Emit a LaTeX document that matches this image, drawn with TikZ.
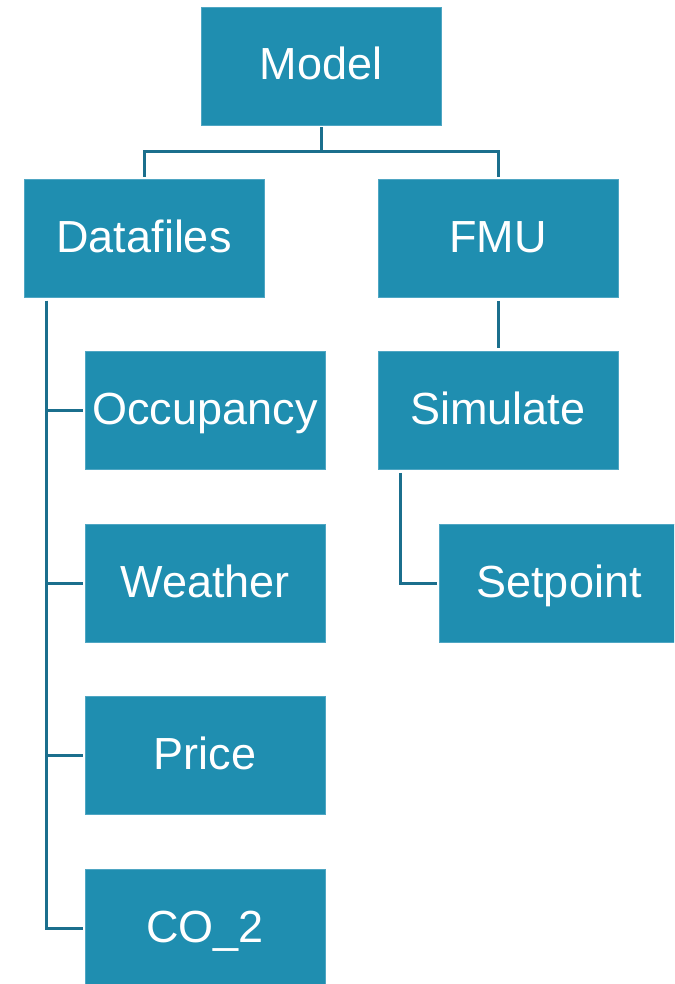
\documentclass[tikz,border=0pt]{standalone}
\usepackage{fontspec}
\setmainfont{Liberation Sans}
\definecolor{boxfill}{HTML}{1F8EB0}
\definecolor{boxedge}{HTML}{4FA6C3}
\definecolor{linkcol}{HTML}{1B6F8D}
\tikzset{
  item/.style={rectangle, fill=boxfill, draw=boxedge, line width=0.8pt,
    minimum width=240pt, minimum height=118pt, inner sep=0pt,
    text height=36pt, text depth=8pt,
    text=white, font=\fontsize{45}{50}\selectfont},
  link/.style={draw=linkcol, line width=3pt}
}
\begin{document}
\begin{tikzpicture}[x=1pt,y=-1pt]
  \useasboundingbox (0,0) rectangle (674,984);
  \clip (0,0) rectangle (674,984);
  % boxes
  \node[item] (model)     at (321,66)    {Model};
  \node[item] (datafiles) at (144,238.5) {Datafiles};
  \node[item] (fmu)       at (498,238.5) {FMU};
  \node[item] (occ)       at (205,410.5) {Occupancy};
  \node[item] (sim)       at (498,410.5) {Simulate};
  \node[item] (weather)   at (205,583)   {Weather};
  \node[item] (setpoint)  at (559,583)   {Setpoint};
  \node[item] (price)     at (205,755.5) {Price};
  \node[item] (co)        at (205,928)   {CO\_2};
  % top level fork
  \coordinate (fork) at (321,152);
  \draw[link] ([yshift=-2pt]model.south) -- (fork);
  \draw[link] (fork) -| ([yshift=2pt]datafiles.north);
  \draw[link] (fork) -| ([yshift=2pt]fmu.north);
  % data files branch
  \coordinate (rail) at ([xshift=23pt,yshift=-3pt]datafiles.south west);
  \draw[link] (rail) |- ([xshift=-2pt]occ.west);
  \draw[link] (rail) |- ([xshift=-2pt]weather.west);
  \draw[link] (rail) |- ([xshift=-2pt]price.west);
  \draw[link] (rail) |- ([xshift=-2pt]co.west);
  % fmu branch
  \draw[link] ([yshift=-3pt]fmu.south) -- ([yshift=3pt]sim.north);
  \coordinate (simrail) at ([xshift=23pt,yshift=-3pt]sim.south west);
  \draw[link] (simrail) |- ([xshift=-2pt]setpoint.west);
\end{tikzpicture}
\end{document}
